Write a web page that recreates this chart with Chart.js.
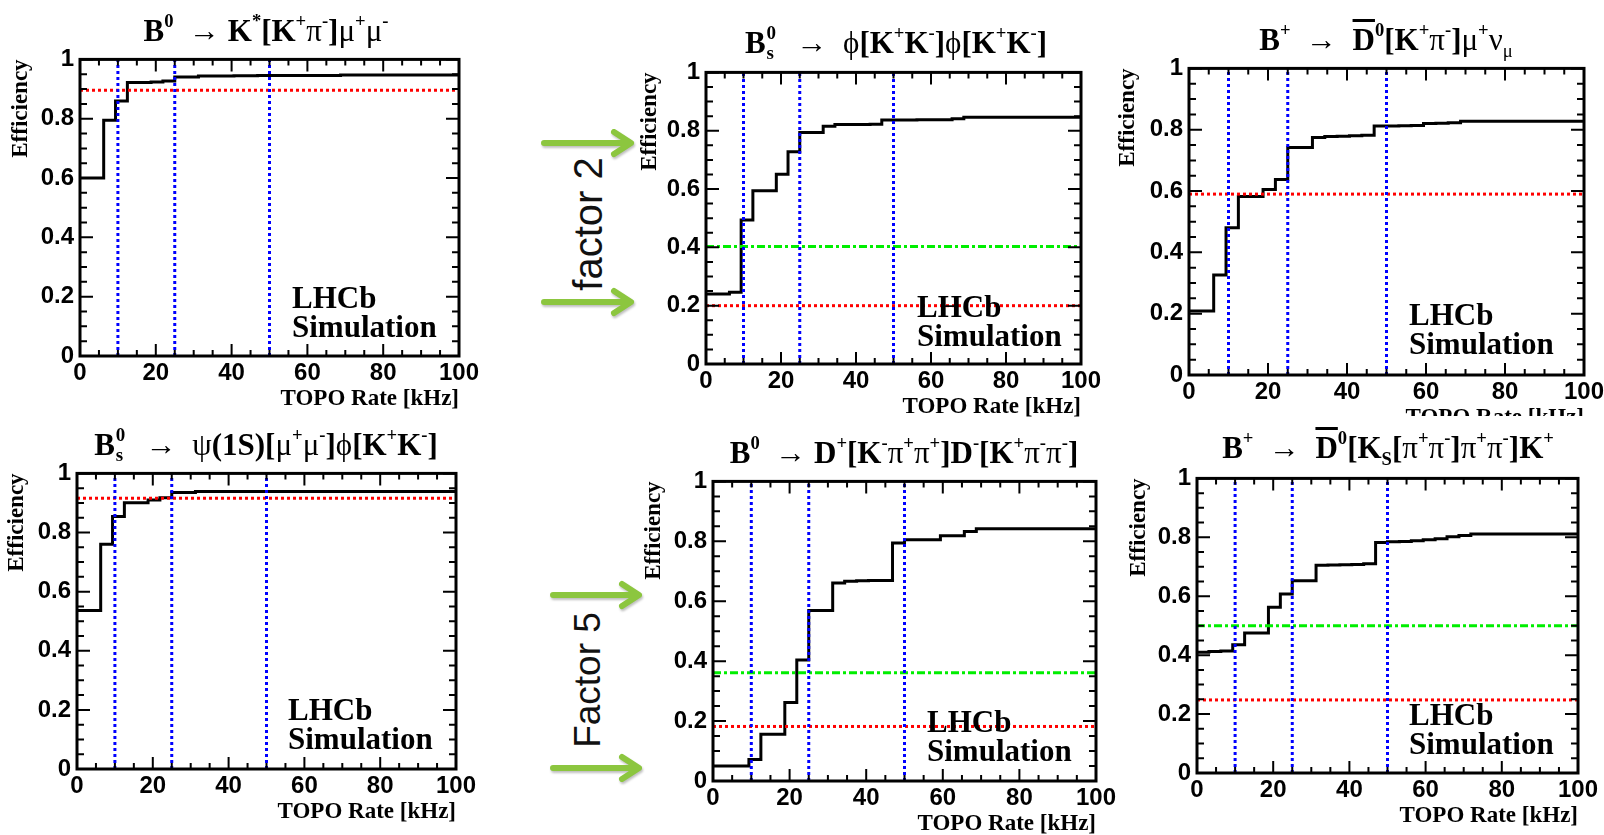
<!DOCTYPE html>
<html>
<head>
<meta charset="utf-8">
<script src="https://cdn.jsdelivr.net/npm/chart.js@4.4.0/dist/chart.umd.min.js"></script>
<style>
  html, body { margin: 0; padding: 0; background: #fff; overflow: hidden; }
  #page { position: relative; width: 1604px; height: 835px; background: #fff; }
  canvas { position: absolute; }
  .title { position: absolute; width: 560px; text-align: center; white-space: nowrap;
           font-family: 'Liberation Serif', serif; font-weight: bold; font-size: 31px; line-height: 31px; color: #000; }
  .title sup { font-size: 0.6em; vertical-align: baseline; position: relative; top: -0.75em; }
  .title sub { font-size: 0.6em; vertical-align: baseline; position: relative; top: 0.35em; }
  .g { font-weight: normal; }
  .ss { display: inline-block; position: relative; width: 0.5em; height: 0; }
  .ss span { position: absolute; left: 1px; font-size: 19px; line-height: 19px; }
  .ss .up { top: -30px; }
  .ss .dn { top: -10px; }
  .bar { text-decoration: overline; }
  .lhcb { position: absolute; font-family: 'Liberation Serif', serif; font-weight: bold; font-size: 31px;
          line-height: 29px; color: #000; white-space: nowrap; }
  .factor { position: absolute; font-family: 'Liberation Sans', sans-serif; font-size: 40px; color: #111;
            transform: translate(-50%, -50%) rotate(-90deg); white-space: nowrap; }
  .cover { position: absolute; background: #fff; }
</style>
</head>
<body>
<div id="page">
  <svg width="1604" height="835" style="position:absolute;left:0;top:0;filter:drop-shadow(1px 2px 1px rgba(0,0,0,0.25))">
    <g stroke="#8cc63f" stroke-width="6" stroke-linecap="round" stroke-linejoin="round" fill="none">
      <path d="M544 143 L629 143 M614 132 L631 143 L614 154"/>
      <path d="M544 302 L629 302 M614 291 L631 302 L614 313"/>
      <path d="M553 595 L637 595 M622 584 L639 595 L622 606"/>
      <path d="M553 768 L637 768 M622 757 L639 768 L622 779"/>
    </g>
  </svg>
  <div class="factor" style="left:588px;top:224px;">factor 2</div>
  <div class="factor" style="left:588px;top:680px;font-size:37px;">Factor 5</div>
</div>
<script>
// TOPO rate bin edges [kHz]
const rateEdges = [0, 3.125, 6.25, 9.375, 12.5, 15.625, 18.75, 21.875, 25, 28.125, 31.25,
  34.375, 37.5, 40.625, 43.75, 46.875, 50, 53.125, 56.25, 59.375, 62.5, 65.625, 68.75,
  71.875, 75, 78.125, 81.25, 84.375, 87.5, 90.625, 93.75, 96.875, 100];

// efficiency per bin
const effKstarMuMu = [0.60, 0.60, 0.795, 0.86, 0.922, 0.922, 0.924, 0.927, 0.941, 0.941, 0.944,
  0.944, 0.944, 0.945, 0.945, 0.946, 0.946, 0.946, 0.946, 0.946, 0.946, 0.946, 0.947, 0.947,
  0.947, 0.947, 0.947, 0.947, 0.947, 0.947, 0.947, 0.947];
const effPhiPhi = [0.24, 0.24, 0.246, 0.494, 0.594, 0.594, 0.651, 0.728, 0.794, 0.794, 0.815,
  0.821, 0.821, 0.821, 0.822, 0.837, 0.837, 0.837, 0.838, 0.838, 0.838, 0.841, 0.846, 0.846,
  0.846, 0.846, 0.846, 0.846, 0.846, 0.846, 0.846, 0.846];
const effD0MuNu = [0.209, 0.209, 0.326, 0.48, 0.582, 0.582, 0.605, 0.638, 0.742, 0.742, 0.775,
  0.778, 0.779, 0.78, 0.782, 0.812, 0.812, 0.813, 0.814, 0.82, 0.821, 0.823, 0.828, 0.828,
  0.828, 0.828, 0.828, 0.828, 0.828, 0.828, 0.828, 0.828];
const effPsiPhi = [0.536, 0.536, 0.76, 0.854, 0.901, 0.901, 0.91, 0.918, 0.935, 0.935, 0.939,
  0.939, 0.939, 0.939, 0.939, 0.939, 0.939, 0.939, 0.939, 0.939, 0.939, 0.939, 0.939, 0.939,
  0.939, 0.939, 0.939, 0.939, 0.939, 0.939, 0.939, 0.939];
const effDD = [0.05, 0.05, 0.05, 0.072, 0.156, 0.156, 0.262, 0.404, 0.569, 0.569, 0.661,
  0.667, 0.668, 0.669, 0.669, 0.794, 0.805, 0.805, 0.805, 0.819, 0.819, 0.833, 0.842, 0.842,
  0.842, 0.842, 0.842, 0.842, 0.842, 0.842, 0.842, 0.842];
const effD0K = [0.41, 0.412, 0.414, 0.435, 0.475, 0.475, 0.563, 0.608, 0.653, 0.653, 0.705,
  0.706, 0.707, 0.708, 0.71, 0.782, 0.785, 0.786, 0.788, 0.792, 0.795, 0.802, 0.806, 0.811,
  0.811, 0.811, 0.811, 0.811, 0.811, 0.811, 0.811, 0.811];

// reference levels and rate cuts
const redLevels = [0.896, 0.20, 0.59, 0.916, 0.182, 0.248];
const greenLevels = [null, 0.403, null, null, 0.361, 0.50];
const cutRates = [10, 25, 50];

const titles = [
  'B<sup>0</sup>&nbsp; <span class="g">&rarr;</span> K<sup>*</sup>[K<sup>+</sup><span class="g">&pi;</span><sup>-</sup>]<span class="g">&mu;</span><sup>+</sup><span class="g">&mu;</span><sup>-</sup>',
  'B<span class="ss"><span class="up">0</span><span class="dn">s</span></span>&nbsp; <span class="g">&rarr;</span>&nbsp; <span class="g">&#981;</span>[K<sup>+</sup>K<sup>-</sup>]<span class="g">&#981;</span>[K<sup>+</sup>K<sup>-</sup>]',
  'B<sup>+</sup>&nbsp; <span class="g">&rarr;</span>&nbsp; <span class="bar">D</span><sup>0</sup>[K<sup>+</sup><span class="g">&pi;</span><sup>-</sup>]<span class="g">&mu;</span><sup>+</sup><span class="g">&nu;</span><sub class="g">&mu;</sub>',
  'B<span class="ss"><span class="up">0</span><span class="dn">s</span></span>&nbsp; <span class="g">&rarr;</span>&nbsp; <span class="g">&psi;</span>(1S)[<span class="g">&mu;</span><sup>+</sup><span class="g">&mu;</span><sup>-</sup>]<span class="g">&#981;</span>[K<sup>+</sup>K<sup>-</sup>]',
  'B<sup>0</sup>&nbsp; <span class="g">&rarr;</span> D<sup>+</sup>[K<sup>-</sup><span class="g">&pi;</span><sup>+</sup><span class="g">&pi;</span><sup>+</sup>]D<sup>-</sup>[K<sup>+</sup><span class="g">&pi;</span><sup>-</sup><span class="g">&pi;</span><sup>-</sup>]',
  'B<sup>+</sup>&nbsp; <span class="g">&rarr;</span>&nbsp; <span class="bar">D</span><sup>0</sup>[K<sub>S</sub>[<span class="g">&pi;</span><sup>+</sup><span class="g">&pi;</span><sup>-</sup>]<span class="g">&pi;</span><sup>+</sup><span class="g">&pi;</span><sup>-</sup>]K<sup>+</sup>'
];

// frame geometry: plot rect, title centre/baseline, LHCb label spot
const panels = [
  {eff: effKstarMuMu, L: 80,   T: 59,  R: 459,  B: 356, effX: 21, tx: 266,  tb: 41,  lx: 292,  lb: 308},
  {eff: effPhiPhi,    L: 706,  T: 72,  R: 1081, B: 364, effX: 24, tx: 896,  tb: 53,  lx: 917,  lb: 317},
  {eff: effD0MuNu,    L: 1189, T: 68,  R: 1584, B: 375, effX: 19, tx: 1386, tb: 50,  lx: 1409, lb: 325},
  {eff: effPsiPhi,    L: 77,   T: 473, R: 456,  B: 769, effX: 20, tx: 266,  tb: 455, lx: 288,  lb: 720},
  {eff: effDD,        L: 713,  T: 481, R: 1096, B: 781, effX: 21, tx: 904,  tb: 463, lx: 927,  lb: 732},
  {eff: effD0K,       L: 1197, T: 478, R: 1578, B: 773, effX: 22, tx: 1388, tb: 458, lx: 1409, lb: 725}
];

// ROOT-like frame with inward ticks on all four sides
const rootFrame = {
  id: 'rootFrame',
  afterDatasetsDraw(chart) {
    const {ctx, chartArea: a, scales: {x, y}} = chart;
    ctx.save();
    ctx.strokeStyle = '#000';
    ctx.lineWidth = 2;
    ctx.beginPath();
    for (let k = 0; k <= 20; k++) {
      const px = x.getPixelForValue(k * 5);
      const len = k % 4 === 0 ? 12 : 6;
      ctx.moveTo(px, a.bottom); ctx.lineTo(px, a.bottom - len);
      ctx.moveTo(px, a.top); ctx.lineTo(px, a.top + len);
    }
    for (let k = 0; k <= 20; k++) {
      const py = y.getPixelForValue(k * 0.05);
      const len = k % 4 === 0 ? 13 : 7;
      ctx.moveTo(a.left, py); ctx.lineTo(a.left + len, py);
      ctx.moveTo(a.right, py); ctx.lineTo(a.right - len, py);
    }
    ctx.stroke();
    ctx.lineWidth = 3;
    ctx.strokeRect(a.left, a.top, a.right - a.left, a.bottom - a.top);
    ctx.restore();
  }
};

const page = document.getElementById('page');

function makePanel(p, i) {
  const w = p.R - p.L + 110, h = p.B - p.T + 80;
  const cv = document.createElement('canvas');
  cv.width = w; cv.height = h;
  cv.style.left = (p.L - 80) + 'px';
  cv.style.top = (p.T - 20) + 'px';
  cv.style.width = w + 'px';
  cv.style.height = h + 'px';
  page.appendChild(cv);

  const steps = rateEdges.map((x, k) => ({x: x, y: p.eff[Math.min(k, p.eff.length - 1)]}));
  const datasets = [];
  cutRates.forEach(r => datasets.push({
    data: [{x: r, y: 0}, {x: r, y: 1}], borderColor: '#0000ff', borderWidth: 3, borderDash: [3, 3]
  }));
  if (greenLevels[i] != null) {
    datasets.push({
      data: [{x: 0, y: greenLevels[i]}, {x: 100, y: greenLevels[i]}],
      borderColor: '#00ee00', borderWidth: 3, borderDash: [8, 3, 3, 3]
    });
  }
  datasets.push({
    data: [{x: 0, y: redLevels[i]}, {x: 100, y: redLevels[i]}],
    borderColor: '#ff0000', borderWidth: 3, borderDash: [3, 3]
  });
  datasets.push({data: steps, stepped: true, borderColor: '#000', borderWidth: 3});

  new Chart(cv.getContext('2d'), {
    type: 'line',
    data: {datasets: datasets},
    options: {
      responsive: false,
      animation: false,
      events: [],
      elements: {point: {radius: 0}},
      layout: {padding: {top: 20, right: 30, left: 0, bottom: 0}},
      plugins: {legend: {display: false}, tooltip: {enabled: false}},
      scales: {
        x: {
          type: 'linear', min: 0, max: 100,
          afterFit: s => { s.height = 60; },
          grid: {display: false, drawTicks: false},
          border: {display: false},
          ticks: {stepSize: 20, maxRotation: 0, autoSkip: false, padding: 3, color: '#000',
                  font: {family: 'Liberation Sans', weight: 'bold', size: 24}},
          title: {display: true, text: 'TOPO Rate [kHz]', align: 'end', color: '#000',
                  font: {family: 'Liberation Serif', weight: 'bold', size: 23},
                  padding: {top: 0, bottom: 3}}
        },
        y: {
          type: 'linear', min: 0, max: 1,
          afterFit: s => { s.width = 80; },
          grid: {display: false, drawTicks: false},
          border: {display: false},
          ticks: {stepSize: 0.2, padding: 6, color: '#000',
                  font: {family: 'Liberation Sans', weight: 'bold', size: 24},
                  callback: v => { const s = v.toFixed(1); return s.endsWith('.0') ? s.slice(0, -2) : s; }},
          title: {display: true, text: 'Efficiency', align: 'end', color: '#000',
                  font: {family: 'Liberation Serif', weight: 'bold', size: 23},
                  padding: {top: p.effX - 14, bottom: 0}}
        }
      }
    },
    plugins: [rootFrame]
  });
}

panels.forEach(makePanel);

// the lower-right frame hides the foot of the upper-right axis title
const cover = document.createElement('div');
cover.className = 'cover';
cover.style.cssText = 'left:1100px;top:416px;width:504px;height:30px;';
page.appendChild(cover);

panels.forEach((p, i) => {
  const t = document.createElement('div');
  t.className = 'title';
  t.style.left = (p.tx - 280) + 'px';
  t.style.top = (p.tb - 26) + 'px';
  t.innerHTML = titles[i];
  page.appendChild(t);

  const l = document.createElement('div');
  l.className = 'lhcb';
  l.style.left = p.lx + 'px';
  l.style.top = (p.lb - 25) + 'px';
  l.innerHTML = 'LHCb<br>Simulation';
  page.appendChild(l);
});
</script>
</body>
</html>
